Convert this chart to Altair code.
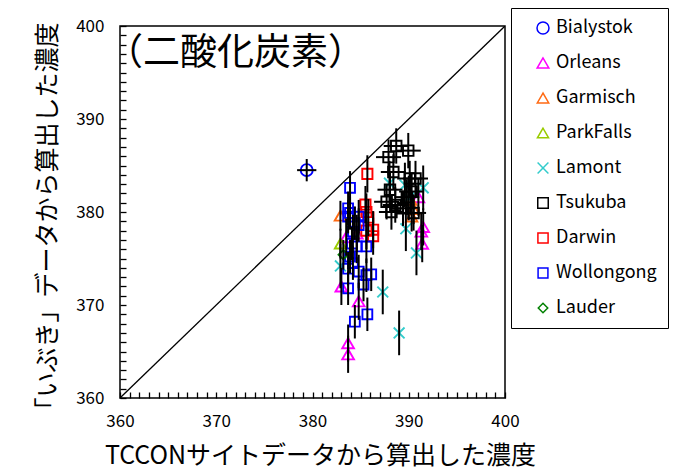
import altair as alt
import pandas as pd

FONT = "Noto Sans CJK JP"

sites = ["Bialystok", "Orleans", "Garmisch", "ParkFalls", "Lamont",
         "Tsukuba", "Darwin", "Wollongong", "Lauder"]
colors = ["#0000FF", "#FF00FF", "#FF6A13", "#99CC00", "#33CCCC",
          "#000000", "#FF0000", "#0000FF", "#008000"]
shapes = ["circle", "triangle-up", "triangle-up", "triangle-up",
          "M-1,-1L1,1M-1,1L1,-1", "square", "square", "square", "diamond"]
sizes = [144, 90, 200, 200, 300, 225, 196, 64, 200]

bialystok_x = [379.4]
bialystok_y = [384.5]
orleans_x = [383.7, 383.7, 384.8, 383.0, 391.3, 391.4, 391.5, 391.0, 384.6, 383.5]
orleans_y = [365.9, 364.7, 370.4, 372.0, 377.9, 376.6, 378.4, 381.6, 377.7, 377.3]
garmisch_x = [382.9, 390.2, 390.5, 390.3]
garmisch_y = [379.6, 381.3, 380.3, 379.5]
parkfalls_x = [382.9]
parkfalls_y = [376.6]
lamont_x = [388.0, 389.6, 391.5, 390.0, 389.7, 390.8, 387.3, 389.0, 382.9]
lamont_y = [383.1, 382.9, 382.6, 381.5, 378.2, 375.6, 371.4, 367.0, 374.2]
tsukuba_x = [388.7, 389.95, 387.9, 388.4, 390.1, 388.05, 390.3, 387.7, 388.6,
             389.8, 390.5, 389.4, 388.2, 390.7]
tsukuba_y = [387.1, 386.6, 385.9, 384.3, 383.6, 382.4, 382.2, 381.1, 380.75,
             381.6, 379.9, 380.4, 380.0, 383.6]
darwin_x = [385.7, 385.5, 385.6, 385.8, 386.3, 385.6, 386.3]
darwin_y = [384.1, 380.8, 380.0, 379.4, 378.1, 378.0, 377.4]
wollongong_x = [383.9, 383.7, 383.9, 383.7, 384.8, 384.4, 384.2, 384.8, 384.1,
                384.6, 385.6, 383.9, 384.2, 383.7, 384.8, 385.6, 386.1, 385.3,
                383.7, 385.7, 384.4]
wollongong_y = [382.6, 380.4, 379.9, 379.5, 379.5, 378.8, 377.9, 378.6, 376.6,
                376.3, 376.3, 375.2, 374.5, 373.9, 373.6, 373.2, 373.3, 372.2,
                371.8, 369.0, 368.2]
lauder_x = [383.2]
lauder_y = [375.4]

# error half-widths per site (x, y)
site_xerr = [1.0, 0.0, 0.0, 0.0, 0.0, 1.3, 0.0, 0.0, 0.0]
site_yerr = [1.2, 2.0, 1.6, 1.6, 2.4, 1.9, 2.0, 1.8, 1.6]

diag = [360, 400]
minor_tick_count = 40
major_ticks = [360, 370, 380, 390, 400]
title_text = "（二酸化炭素）"
x_title = "TCCONサイトデータから算出した濃度"
y_title = "「いぶき」データから算出した濃度"

series = [
    (bialystok_x, bialystok_y), (orleans_x, orleans_y), (garmisch_x, garmisch_y),
    (parkfalls_x, parkfalls_y), (lamont_x, lamont_y), (tsukuba_x, tsukuba_y),
    (darwin_x, darwin_y), (wollongong_x, wollongong_y), (lauder_x, lauder_y),
]
rows = []
for i, (xs, ys) in enumerate(series):
    for xv, yv in zip(xs, ys):
        rows.append({"site": sites[i], "x": xv, "y": yv,
                     "xlo": xv - site_xerr[i], "xhi": xv + site_xerr[i],
                     "ylo": yv - site_yerr[i], "yhi": yv + site_yerr[i],
                     "hasx": site_xerr[i] > 0})
df = pd.DataFrame(rows)
df_diag = pd.DataFrame({"x": diag, "y": diag})

SCALE = alt.Scale(domain=[360, 400], nice=False, zero=False)

# axis carrying labels and titles (no ticks)
x_lab_axis = alt.Axis(orient="bottom", values=major_ticks, ticks=False, tickSize=0,
                      labelPadding=15, title=x_title, titlePadding=14, titleX=200,
                      labelFlush=False, labelOverlap=False)
y_lab_axis = alt.Axis(orient="left", values=major_ticks, ticks=False, tickSize=0,
                      labelPadding=16, title=y_title, titlePadding=15, titleY=196,
                      labelFlush=False, labelOverlap=False)
# axis carrying the inward minor ticks
x_tick_axis = alt.Axis(orient="bottom", tickCount=minor_tick_count, labels=False, title=None,
                       tickSize=6, offset=-6, ticks=True, zindex=2)
y_tick_axis = alt.Axis(orient="left", tickCount=minor_tick_count, labels=False, title=None,
                       tickSize=6, offset=-6, ticks=True, zindex=2)

legend = alt.Legend(orient="none", legendX=391, legendY=-18, title=None)

diag_line = alt.Chart(df_diag).mark_line(color="black", strokeWidth=1.3, clip=True).encode(
    x=alt.X("x:Q", scale=SCALE, axis=x_tick_axis),
    y=alt.Y("y:Q", scale=SCALE, axis=y_tick_axis))

points = alt.Chart(df).mark_point(filled=False, strokeWidth=1.9, opacity=1, clip=True).encode(
    x=alt.X("x:Q", scale=SCALE, axis=None),
    y=alt.Y("y:Q", scale=SCALE, axis=None),
    color=alt.Color("site:N", scale=alt.Scale(domain=sites, range=colors), legend=legend),
    shape=alt.Shape("site:N", scale=alt.Scale(domain=sites, range=shapes), legend=legend),
    size=alt.Size("site:N", scale=alt.Scale(domain=sites, range=sizes), legend=None),
)

vbars = alt.Chart(df).mark_rule(color="black", strokeWidth=2, clip=True).encode(
    x=alt.X("x:Q", scale=SCALE, axis=x_lab_axis),
    y=alt.Y("ylo:Q", scale=SCALE, axis=y_lab_axis), y2="yhi:Q")

hbars = alt.Chart(df).transform_filter("datum.hasx").mark_rule(
    color="black", strokeWidth=2, clip=True).encode(
    y=alt.Y("y:Q", scale=SCALE, axis=None),
    x=alt.X("xlo:Q", scale=SCALE, axis=None), x2="xhi:Q")

title = alt.Chart(pd.DataFrame({"t": [title_text]})).mark_text(
    align="left", baseline="alphabetic", fontSize=37, font=FONT, color="black"
).encode(x=alt.value(-14), y=alt.value(39), text="t:N")

chart = alt.layer(diag_line, points, vbars, hbars, title).resolve_axis(
    x="independent", y="independent"
).properties(
    width=385, height=372,
    autosize=alt.AutoSizeParams(type="none"),
    padding={"left": 112, "top": 18, "right": 167, "bottom": 75},
).configure_view(stroke="black", strokeWidth=1.5).configure_axis(
    labelFont=FONT, titleFont=FONT, labelColor="black", titleColor="black",
    tickColor="black", labelFontSize=17, titleFontSize=25, titleFontWeight="normal",
    grid=False, domain=False, tickWidth=1.3, tickOpacity=1,
).configure_legend(
    strokeColor="black", strokeWidth=1,
    padding=11, symbolOffset=12, labelOffset=4, labelFont=FONT, labelFontSize=18,
    labelColor="black", rowPadding=17, symbolSize=100, symbolStrokeWidth=1.5,
    fillColor="white",
)

chart.save("out.html", embed_options={"renderer": "svg", "actions": False})
